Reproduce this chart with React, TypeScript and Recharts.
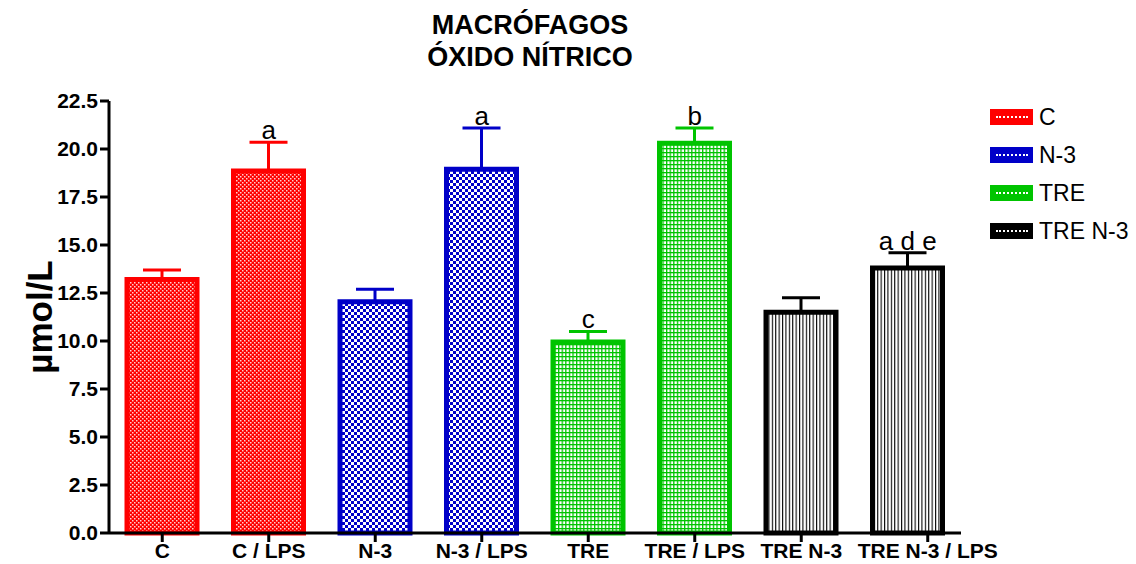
import { ComposedChart, Bar, Cell, ErrorBar, Line, LabelList, XAxis, YAxis, Legend, Text } from 'recharts';

const categories = ['C', 'C / LPS', 'N-3', 'N-3 / LPS', 'TRE', 'TRE / LPS', 'TRE N-3', 'TRE N-3 / LPS'];
const means = [13.2, 18.85, 12.05, 18.95, 9.95, 20.3, 11.5, 13.8];
const sems = [0.5, 1.5, 0.65, 2.15, 0.55, 0.8, 0.75, 0.8];
const groupOf = [0, 0, 1, 1, 2, 2, 3, 3];
const letters = ['', 'a', '', 'a', 'c', 'b', '', 'a d e'];
const groups = ['C', 'N-3', 'TRE', 'TRE N-3'];
const yTicks = [0, 2.5, 5, 7.5, 10, 12.5, 15, 17.5, 20, 22.5];
// the original draws the last category tick a bit right of its bar
const tickShift = [0, 0, 0, 0, 0, 0, 0, 20];

const colors = ['#ff0000', '#0000c8', '#00c400', '#000000'];
const patterns = ['pRed', 'pBlue', 'pGreen', 'pBlack'];
const FONT = 'Arial, "Liberation Sans", sans-serif';
const X_TICK = 9;
const X_MARGIN = 1;

const data = categories.map((name, i) => {
  const row: Record<string, unknown> = {
    name,
    mean: means[i],
    top: means[i] + sems[i],
    letter: letters[i],
  };
  groups.forEach((_, g) => {
    row[`err${g}`] = groupOf[i] === g ? [0, sems[i]] : null;
  });
  return row;
});

function XTick(props: any) {
  const { x, y, payload, index } = props;
  const cx = x + (tickShift[index] || 0);
  return (
    <g>
      <line x1={cx} x2={cx} y1={y - X_TICK - X_MARGIN} y2={y - X_MARGIN} stroke="#000" strokeWidth={3} />
      <Text
        x={cx}
        y={y}
        textAnchor="middle"
        verticalAnchor="start"
        fill="#000"
        fontSize={21}
        fontWeight="bold"
        fontFamily={FONT}
      >
        {payload.value}
      </Text>
    </g>
  );
}

function LegendBox() {
  return (
    <div style={{ fontFamily: FONT, fontSize: 23, color: '#000' }}>
      {groups.map((g, i) => (
        <div key={g} style={{ display: 'flex', alignItems: 'center', height: 38 }}>
          <div
            style={{
              width: 43,
              height: 16,
              background: colors[i],
              marginRight: 6,
              display: 'flex',
              alignItems: 'center',
              justifyContent: 'center',
            }}
          >
            <div style={{ width: 32, borderTop: '2px dotted #fff' }} />
          </div>
          <span>{g}</span>
        </div>
      ))}
    </div>
  );
}

export default function App() {
  return (
    <div style={{ position: 'absolute', left: 0, top: 0, width: 1136, height: 564, background: '#fff' }}>
      <div
        style={{
          position: 'absolute',
          left: 0,
          top: 9,
          width: 1060,
          textAlign: 'center',
          fontFamily: FONT,
          fontWeight: 'bold',
          fontSize: 27,
          lineHeight: '32px',
        }}
      >
        MACRÓFAGOS
        <br />
        ÓXIDO NÍTRICO
      </div>
      <ComposedChart width={1136} height={564} data={data} margin={{ top: 101, right: 175, left: 0, bottom: 0 }}>
        <defs>
          <pattern id="pRed" width="4" height="4" patternUnits="userSpaceOnUse">
            <rect width="4" height="4" fill="#ff0000" />
            <rect width="1.5" height="1.5" fill="#ffd0d0" />
            <rect x="2" y="2" width="1.5" height="1.5" fill="#ffd0d0" />
          </pattern>
          <pattern id="pBlue" width="6" height="6" patternUnits="userSpaceOnUse">
            <rect width="6" height="6" fill="#ffffff" />
            <rect width="3" height="3" fill="#0000c8" />
            <rect x="3" y="3" width="3" height="3" fill="#0000c8" />
          </pattern>
          <pattern id="pGreen" width="3.6" height="4" patternUnits="userSpaceOnUse">
            <rect width="3.6" height="4" fill="#ffffff" />
            <rect width="1.3" height="4" fill="#00c400" />
            <rect width="3.6" height="1.3" fill="#00c400" />
          </pattern>
          <pattern id="pBlack" width="3.4" height="4" patternUnits="userSpaceOnUse">
            <rect width="3.4" height="4" fill="#ffffff" />
            <rect width="1.1" height="4" fill="#000000" />
          </pattern>
        </defs>
        <XAxis
          dataKey="name"
          height={31}
          interval={0}
          tick={<XTick />}
          tickSize={X_TICK}
          tickMargin={X_MARGIN}
          axisLine={{ stroke: '#000', strokeWidth: 3 }}
          tickLine={false}
        />
        <YAxis
          width={109}
          domain={[0, 22.5]}
          ticks={yTicks}
          interval={0}
          tickFormatter={(v: number) => v.toFixed(1)}
          tick={{ fill: '#000', fontSize: 21, fontWeight: 'bold', fontFamily: FONT }}
          tickSize={9}
          tickMargin={2}
          axisLine={{ stroke: '#000', strokeWidth: 3 }}
          tickLine={{ stroke: '#000', strokeWidth: 3 }}
          label={{
            value: 'µmol/L',
            angle: -90,
            position: 'insideLeft',
            offset: 40,
            style: { textAnchor: 'middle', fontSize: 35, fontWeight: 'bold', fill: '#000', fontFamily: FONT },
          }}
        />
        <Legend
          layout="vertical"
          align="center"
          verticalAlign="middle"
          wrapperStyle={{ left: 990, top: 98, width: 146 }}
          content={() => <LegendBox />}
        />
        <Bar dataKey="mean" barSize={70} strokeWidth={5} isAnimationActive={false}>
          {categories.map((c, i) => (
            <Cell key={c} fill={`url(#${patterns[groupOf[i]]})`} stroke={colors[groupOf[i]]} />
          ))}
          {groups.map((g, gi) => (
            <ErrorBar
              key={g}
              dataKey={`err${gi}`}
              direction="y"
              width={19}
              stroke={colors[gi]}
              strokeWidth={3}
              isAnimationActive={false}
            />
          ))}
        </Bar>
        <Line
          dataKey="top"
          stroke="none"
          dot={false}
          activeDot={false}
          legendType="none"
          isAnimationActive={false}
        >
          <LabelList
            dataKey="letter"
            position="top"
            offset={3}
            style={{ fill: '#000', fontSize: 26, fontFamily: FONT }}
          />
        </Line>
      </ComposedChart>
    </div>
  );
}
